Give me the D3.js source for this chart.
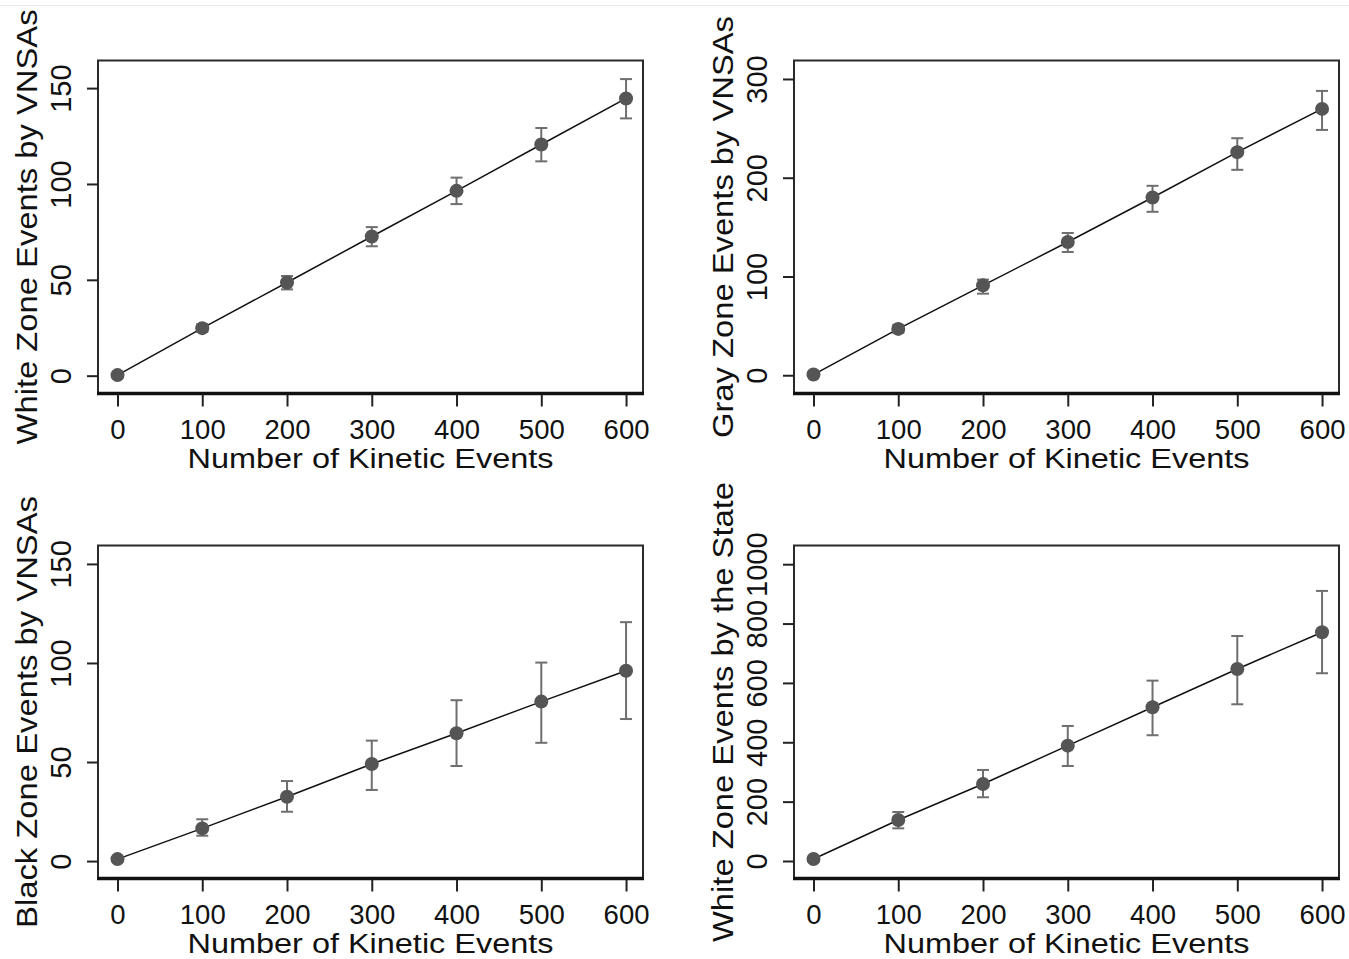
<!DOCTYPE html>
<html>
<head>
<meta charset="utf-8">
<script src="https://cdn.jsdelivr.net/npm/d3@7"></script>
<style>
  html, body { margin: 0; padding: 0; background: #fff; }
  svg { display: block; }
  text { font-family: "Liberation Sans", Arial, sans-serif; fill: #111; }
</style>
</head>
<body>
<svg id="chart" width="1349" height="959"></svg>
<script>
// ---- Data ----
const kineticEvents = [0, 100, 200, 300, 400, 500, 600];
const xTickValues = [0, 100, 200, 300, 400, 500, 600];
const xAxisTitle = "Number of Kinetic Events";

// Panel 1: White Zone Events by VNSAs
const whiteVnsaMean = [0.3, 24.8, 48.6, 72.6, 96.4, 120.6, 144.6];
const whiteVnsaLow  = [0.0, 22.8, 45.0, 67.5, 89.5, 111.8, 134.2];
const whiteVnsaHigh = [0.6, 26.8, 52.0, 77.5, 103.3, 129.2, 154.7];
const whiteVnsaTicks = [0, 50, 100, 150];

// Panel 2: Gray Zone Events by VNSAs
const grayVnsaMean = [0.7, 46.9, 91.0, 134.9, 180.0, 225.9, 269.7];
const grayVnsaLow  = [0.0, 43.0, 82.6, 124.8, 165.5, 208.0, 248.4];
const grayVnsaHigh = [1.5, 51.0, 96.8, 144.0, 191.8, 240.0, 287.9];
const grayVnsaTicks = [0, 100, 200, 300];

// Panel 3: Black Zone Events by VNSAs
const blackVnsaMean = [1.0, 16.5, 32.5, 49.0, 64.5, 80.5, 96.1];
const blackVnsaLow  = [0.0, 12.8, 24.9, 35.9, 48.0, 59.7, 71.7];
const blackVnsaHigh = [2.0, 21.1, 40.4, 60.8, 81.2, 100.2, 120.6];
const blackVnsaTicks = [0, 50, 100, 150];

// Panel 4: White Zone Events by the State
const whiteStateMean = [6.7, 138.0, 259.5, 388.6, 518.0, 647.0, 770.8];
const whiteStateLow  = [0.0, 110.0, 214.7, 320.0, 423.7, 528.0, 632.6];
const whiteStateHigh = [13.0, 165.0, 306.7, 455.0, 607.7, 758.0, 910.0];
const whiteStateTicks = [0, 200, 400, 600, 800, 1000];

// ---- Layout ----
const svg = d3.select("#chart");
svg.append("line").attr("x1", 0).attr("x2", 1349).attr("y1", 5.5).attr("y2", 5.5)
  .attr("stroke", "#e4eaee").attr("stroke-width", 1);

const panels = [
  { label: "White Zone Events by VNSAs", labelLen: 435, mean: whiteVnsaMean, low: whiteVnsaLow, high: whiteVnsaHigh, ticks: whiteVnsaTicks,
    col: 0, row: 0, yDomain: [-9.3, 164.4] },
  { label: "Gray Zone Events by VNSAs", labelLen: 422, mean: grayVnsaMean, low: grayVnsaLow, high: grayVnsaHigh, ticks: grayVnsaTicks,
    col: 1, row: 0, yDomain: [-18.5, 318.7] },
  { label: "Black Zone Events by VNSAs", labelLen: 432, mean: blackVnsaMean, low: blackVnsaLow, high: blackVnsaHigh, ticks: blackVnsaTicks,
    col: 0, row: 1, yDomain: [-8.8, 159.3] },
  { label: "White Zone Events by the State", labelLen: 460, mean: whiteStateMean, low: whiteStateLow, high: whiteStateHigh, ticks: whiteStateTicks,
    col: 1, row: 1, yDomain: [-59, 1063] }
];

const boxW = 545, boxH = 333;
const colLeft = [98, 794];
const rowTop = [60.5, 545.5];
const fontFam = '"Liberation Sans", Arial, sans-serif';

panels.forEach(p => {
  const left = colLeft[p.col], top = rowTop[p.row];
  const right = left + boxW, bottom = top + boxH;
  const g = svg.append("g");

  const x = d3.scaleLinear().domain([-23, 620]).range([left, right]);
  const y = d3.scaleLinear().domain(p.yDomain).range([bottom, top]);

  const pts = kineticEvents.map((k, i) => ({ k, m: p.mean[i], lo: p.low[i], hi: p.high[i] }));

  // connecting line
  g.append("path").datum(pts)
    .attr("d", d3.line().x(d => x(d.k)).y(d => y(d.m)))
    .attr("fill", "none").attr("stroke", "#111").attr("stroke-width", 1.5);

  // error bars
  const eb = g.append("g").attr("stroke", "#6f6f6f").attr("stroke-width", 2).attr("fill", "none");
  pts.forEach(d => {
    const cx = x(d.k);
    eb.append("line").attr("x1", cx).attr("x2", cx).attr("y1", y(d.lo)).attr("y2", y(d.hi));
    eb.append("line").attr("x1", cx - 6).attr("x2", cx + 6).attr("y1", y(d.lo)).attr("y2", y(d.lo));
    eb.append("line").attr("x1", cx - 6).attr("x2", cx + 6).attr("y1", y(d.hi)).attr("y2", y(d.hi));
  });

  // points
  g.append("g").selectAll("circle").data(pts).join("circle")
    .attr("cx", d => x(d.k)).attr("cy", d => y(d.m)).attr("r", 7)
    .attr("fill", "#555555");

  // box
  g.append("rect").attr("x", left).attr("y", top).attr("width", boxW).attr("height", boxH)
    .attr("fill", "none").attr("stroke", "#2a2a2a").attr("stroke-width", 2);
  g.append("line").attr("x1", left - 1).attr("x2", right + 1).attr("y1", bottom).attr("y2", bottom)
    .attr("stroke", "#111").attr("stroke-width", 3.5);

  // x axis
  const xAxis = d3.axisBottom(x).tickValues(xTickValues).tickSize(12).tickPadding(0).tickFormat(d3.format("d"));
  const xa = g.append("g").attr("transform", `translate(0,${bottom + 1})`).call(xAxis);
  xa.select(".domain").remove();
  xa.selectAll(".tick line").attr("stroke", "#222").attr("stroke-width", 2);
  xa.selectAll(".tick text").attr("font-size", 27.5).attr("dy", null).attr("y", 44)
    .style("font-family", fontFam).attr("fill", "#111");

  // y axis
  const yAxis = d3.axisLeft(y).tickValues(p.ticks).tickSize(11).tickPadding(0).tickFormat(d3.format("d"));
  const ya = g.append("g").attr("transform", `translate(${left},0)`).call(yAxis);
  ya.select(".domain").remove();
  ya.selectAll(".tick line").attr("stroke", "#222").attr("stroke-width", 2);
  ya.selectAll(".tick text")
    .attr("x", null).attr("dy", null)
    .attr("text-anchor", "middle")
    .attr("transform", "translate(-27,0) rotate(-90)")
    .attr("font-size", 29)
    .style("font-family", fontFam).attr("fill", "#111");

  // x title
  g.append("text")
    .attr("x", (left + right) / 2).attr("y", bottom + 74)
    .attr("text-anchor", "middle").attr("font-size", 27.5)
    .attr("textLength", 366).attr("lengthAdjust", "spacingAndGlyphs")
    .text(xAxisTitle);

  // y title
  g.append("text")
    .attr("transform", `translate(${left - 61},${(top + bottom) / 2}) rotate(-90)`)
    .attr("text-anchor", "middle").attr("font-size", 29)
    .attr("textLength", p.labelLen).attr("lengthAdjust", "spacingAndGlyphs")
    .text(p.label);
});
</script>
</body>
</html>
